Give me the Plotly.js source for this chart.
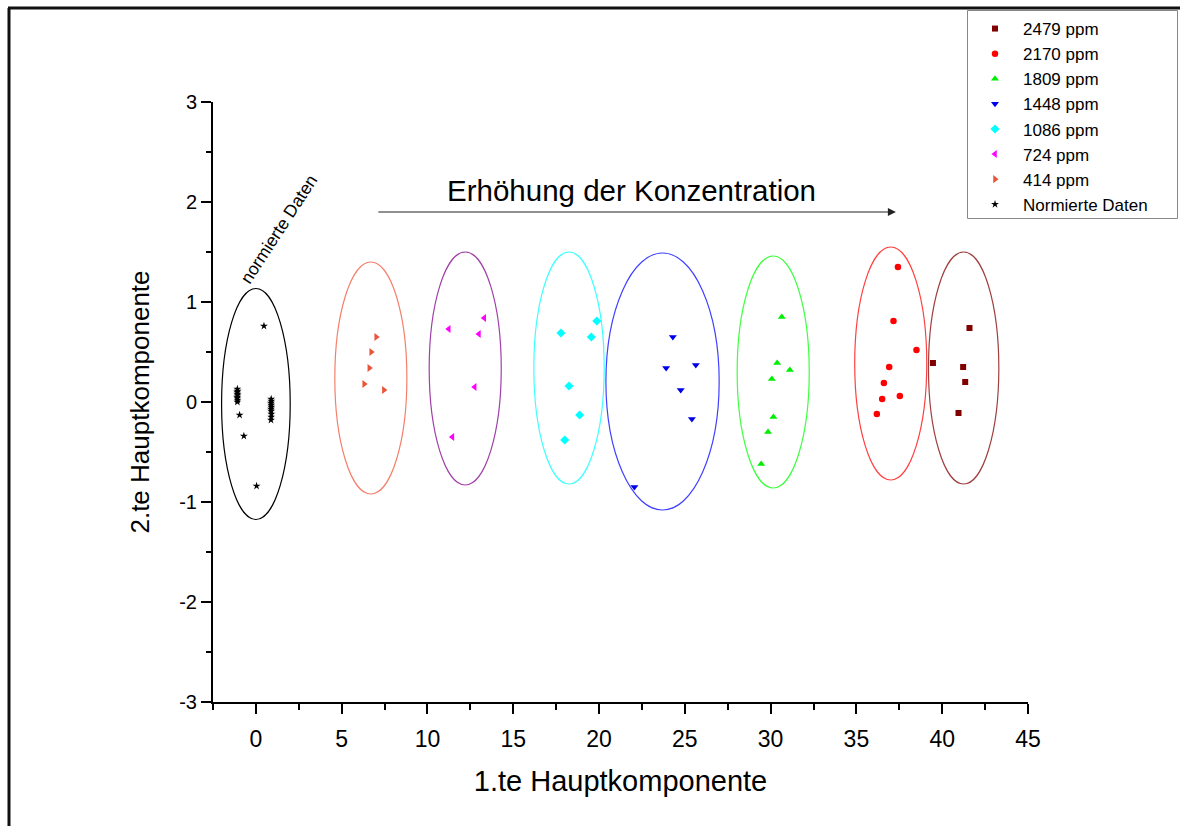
<!DOCTYPE html>
<html>
<head>
<meta charset="utf-8">
<script src="https://cdn.plot.ly/plotly-3.0.1.min.js"></script>
<style>
html,body{margin:0;padding:0;background:#fff;}
#chart{width:1180px;height:826px;}
</style>
</head>
<body>
<div id="chart"></div>
<script>
// ---- data ----
const seriesNames = ["2479 ppm", "2170 ppm", "1809 ppm", "1448 ppm", "1086 ppm", "724 ppm", "414 ppm", "Normierte Daten"];

const x2479 = [41.59, 39.46, 41.22, 41.34, 40.95];
const y2479 = [0.74, 0.39, 0.35, 0.20, -0.11];

const x2170 = [37.42, 37.16, 38.50, 36.91, 36.60, 37.53, 36.50, 36.19];
const y2170 = [1.35, 0.81, 0.52, 0.35, 0.19, 0.06, 0.03, -0.12];

const x1809 = [30.65, 30.38, 31.12, 30.07, 30.16, 29.85, 29.45];
const y1809 = [0.85, 0.39, 0.32, 0.23, -0.15, -0.30, -0.62];

const x1448 = [24.30, 23.91, 25.64, 24.76, 25.41, 22.06];
const y1448 = [0.65, 0.34, 0.37, 0.12, -0.17, -0.85];

const x1086 = [19.87, 17.78, 19.55, 18.25, 18.87, 18.00];
const y1086 = [0.81, 0.69, 0.65, 0.16, -0.13, -0.38];

const x724 = [13.31, 11.24, 13.00, 12.75, 11.45];
const y724 = [0.84, 0.73, 0.68, 0.15, -0.35];

const x414 = [7.01, 6.72, 6.61, 6.31, 7.46];
const y414 = [0.65, 0.50, 0.34, 0.18, 0.12];

const xNorm = [0.47, -0.95, -0.70, 0.04,
  -1.08, -1.07, -1.09, -1.08, -1.07, -1.09, -1.08, -1.07, -1.08,
  0.89, 0.90, 0.88, 0.89, 0.90, 0.88, 0.89, 0.90, 0.89, 0.88];
const yNorm = [0.76, -0.13, -0.34, -0.84,
  0.13, 0.11, 0.10, 0.08, 0.07, 0.05, 0.04, 0.02, 0.00,
  0.03, 0.01, -0.01, -0.03, -0.05, -0.07, -0.09, -0.12, -0.15, -0.18];

// confidence ellipses: centre and half-axes
const ellCx = [41.25, 37.0, 30.15, 23.7, 18.25, 12.2, 6.7, 0.0];
const ellCy = [0.34, 0.385, 0.30, 0.205, 0.34, 0.335, 0.24, -0.02];
const ellRx = [2.05, 2.1, 2.1, 3.3, 2.05, 2.1, 2.1, 2.0];
const ellRy = [1.16, 1.165, 1.16, 1.285, 1.16, 1.165, 1.16, 1.155];

const xTicks = [0, 5, 10, 15, 20, 25, 30, 35, 40, 45];
const yTicks = [-3, -2, -1, 0, 1, 2, 3];

// ---- styles ----
const markerColors = ["#800000", "#ff0000", "#00ee00", "#0000e8", "#00ffff", "#ff00ff", "#e8553a", "#000000"];
const markerSymbols = ["square", "circle", "triangle-up", "triangle-down", "diamond", "triangle-left", "triangle-right", "star"];
const markerSizes = [6, 6.5, 7, 7, 7, 7, 7, 6];
const ellColors = ["#a04040", "#ff4040", "#40ff40", "#4040ff", "#40ffff", "#a040a8", "#f4806c", "#000000"];

const xs = [x2479, x2170, x1809, x1448, x1086, x724, x414, xNorm];
const ys = [y2479, y2170, y1809, y1448, y1086, y724, y414, yNorm];

const traces = seriesNames.map((n, i) => ({
  type: "scatter", mode: "markers", name: n,
  x: xs[i], y: ys[i],
  marker: {symbol: markerSymbols[i], size: markerSizes[i], color: markerColors[i], line: {width: 0}}
}));

const W = 1180, H = 826, L = 213, R = 152, T = 102, B = 124;
const pxX = p => (p - L) / (W - L - R);
const pxY = p => (H - B - p) / (H - T - B);

const shapes = ellCx.map((c, i) => ({
  type: "circle", xref: "x", yref: "y",
  x0: c - ellRx[i], x1: c + ellRx[i], y0: ellCy[i] - ellRy[i], y1: ellCy[i] + ellRy[i],
  line: {color: ellColors[i], width: 1.2}, layer: "below"
}));
// outer frame (left and top lines)
shapes.push({type: "line", xref: "paper", yref: "paper", x0: pxX(9), x1: pxX(9), y0: pxY(8), y1: pxY(830), line: {color: "#111", width: 3}});
shapes.push({type: "line", xref: "paper", yref: "paper", x0: pxX(8), x1: pxX(1185), y0: pxY(8), y1: pxY(8), line: {color: "#111", width: 3}});
// legend frame
shapes.push({type: "rect", xref: "paper", yref: "paper", x0: pxX(967.5), x1: pxX(1177.5), y0: pxY(218.5), y1: pxY(10.5), line: {color: "#888", width: 1}});

const font = "Arial, 'Liberation Sans', sans-serif";

const layout = {
  width: W, height: H,
  margin: {l: L, r: R, t: T, b: B, autoexpand: false},
  paper_bgcolor: "#fff", plot_bgcolor: "#fff",
  showlegend: true,
  legend: {
    x: pxX(967), y: pxY(11), xanchor: "left", yanchor: "top",
    bgcolor: "rgba(0,0,0,0)", borderwidth: 0,
    font: {family: font, size: 17, color: "#000"},
    tracegroupgap: 0, itemwidth: 46
  },
  xaxis: {
    range: [-2.5, 45], showgrid: false, zeroline: false,
    showline: true, linecolor: "#000", linewidth: 2,
    tickmode: "array", tickvals: xTicks, ticktext: xTicks.map(String),
    ticks: "outside", ticklen: 10, tickwidth: 2, tickcolor: "#000", ticklabelstandoff: 5,
    minor: {dtick: 2.5, tick0: 0, ticks: "outside", ticklen: 6, tickwidth: 2, tickcolor: "#000", showgrid: false},
    tickfont: {family: "'Liberation Sans Narrow', 'Arial Narrow', " + font, size: 23, color: "#000"},
    title: {text: "1.te Hauptkomponente", font: {family: font, size: 29, color: "#000"}, standoff: 20}
  },
  yaxis: {
    range: [-3, 3], showgrid: false, zeroline: false,
    showline: true, linecolor: "#000", linewidth: 2,
    tickmode: "array", tickvals: yTicks, ticktext: yTicks.map(String),
    ticks: "outside", ticklen: 10, tickwidth: 2, tickcolor: "#000",
    minor: {dtick: 0.5, tick0: 0, ticks: "outside", ticklen: 5, tickwidth: 2, tickcolor: "#000", showgrid: false},
    tickfont: {family: font, size: 20, color: "#000"},
    title: {text: "2.te Hauptkomponente", font: {family: font, size: 26, color: "#000"}, standoff: 22}
  },
  shapes: shapes,
  annotations: [
    {x: 21.87, y: 2.12, xref: "x", yref: "y", text: "Erhöhung der Konzentration", showarrow: false,
     font: {family: font, size: 29.5, color: "#000"}},
    {x: 37.3, y: 1.9, ax: 7.05, ay: 1.9, xref: "x", yref: "y", axref: "x", ayref: "y", text: "",
     showarrow: true, arrowhead: 2, arrowsize: 1.6, arrowwidth: 1, arrowcolor: "#222"},
    {x: 1.34, y: 1.73, xref: "x", yref: "y", text: "normierte Daten", showarrow: false, textangle: -57,
     font: {family: font, size: 17.5, color: "#000"}}
  ]
};

Plotly.newPlot("chart", traces, layout, {displayModeBar: false, staticPlot: true});
</script>
</body>
</html>
